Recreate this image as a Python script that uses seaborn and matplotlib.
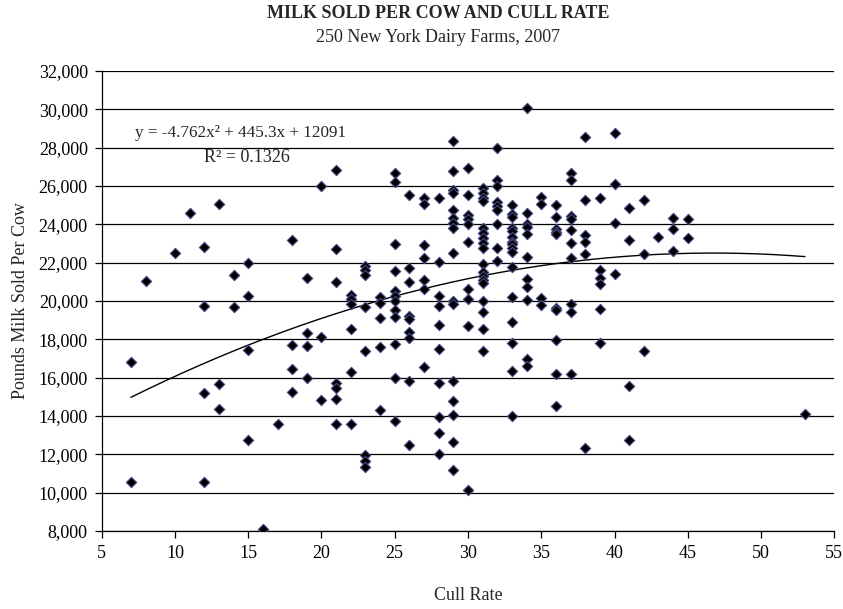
import numpy as np
import pandas as pd
import matplotlib
matplotlib.use("Agg")
import matplotlib.pyplot as plt
import matplotlib.ticker as mticker
import seaborn as sns

# ---------------- DATA ----------------
# cull rate (%) and pounds of milk sold per cow, grouped by cull rate
cull_rate = (
    [7] * 2 + [8] + [10] + [11] + [12] * 4 + [13] * 3 + [14] * 2 + [15] * 4 + [16] + [17]
    + [18] * 4 + [19] * 4 + [20] * 3 + [21] * 7 + [22] * 6 + [23] * 8 + [24] * 5
    + [25] * 12 + [26] * 9 + [27] * 7 + [28] * 10 + [29] * 16 + [30] * 10
    + [31] * 18 + [32] * 9 + [33] * 16 + [34] * 11 + [35] * 4 + [36] * 10 + [37] * 10
    + [38] * 6 + [39] * 6 + [40] * 4 + [41] * 4 + [42] * 3 + [43] + [44] * 3 + [45] * 2 + [53]
)
milk_sold = [
    16830, 10570,                                   # 7
    21050,                                          # 8
    22500,                                          # 10
    24600,                                          # 11
    22830, 19750, 15180, 10570,                     # 12
    25060, 15670, 14350,                            # 13
    21360, 19700,                                   # 14
    21970, 20260, 17440, 12750,                     # 15
    8090,                                           # 16
    13580,                                          # 17
    23180, 17700, 16430, 15250,                     # 18
    21180, 18310, 17670, 15960,                     # 19
    26020, 18140, 14830,                            # 20
    26840, 22710, 20970, 15700, 15440, 14890, 13580,  # 21
    20300, 20100, 19850, 18550, 16300, 13600,       # 22
    21800, 21600, 21350, 19700, 17400, 11950, 11650, 11350,  # 23
    20200, 19900, 19100, 17600, 14300,              # 24
    26700, 26200, 23000, 21550, 20500, 20250, 20000, 19550, 19150, 17750, 16000, 13750,  # 25
    25550, 21700, 21000, 19200, 19050, 18400, 18050, 15850, 12500,  # 26
    25350, 25050, 22900, 22250, 21100, 20600, 16550,  # 27
    25350, 22050, 20250, 19750, 18750, 17500, 15700, 13950, 13100, 12000,  # 28
    28350, 26800, 25800, 25650, 24750, 24350, 24050, 23800, 22500, 20000,
    19850, 15850, 14800, 14050, 12650, 11200,       # 29
    26950, 25550, 24500, 24300, 24000, 23100, 20600, 20100, 18700, 10150,  # 30
    25900, 25650, 25400, 25200, 23800, 23550, 23300, 23050, 22750, 21950,
    21500, 21300, 21100, 20950, 20000, 19400, 18550, 17400,  # 31
    28000, 26300, 26000, 25150, 24950, 24750, 24000, 22750, 22100,  # 32
    25000, 24550, 24400, 23800, 23650, 23350, 23100, 22950, 22750, 22550,
    21750, 20200, 18900, 17800, 16350, 14000,       # 33
    30050, 24600, 24000, 23850, 23500, 22300, 21150, 20750, 20050, 16950, 16600,  # 34
    25450, 25050, 20150, 19800,                     # 35
    25000, 24400, 23750, 23600, 23500, 19650, 19550, 17950, 16200, 14500,  # 36
    26700, 26300, 24450, 24300, 23700, 23050, 22250, 19850, 19450, 16200,  # 37
    28550, 25250, 23450, 23100, 22450, 12350,       # 38
    25400, 21600, 21200, 20900, 19600, 17800,       # 39
    28750, 26100, 24050, 21400,                     # 40
    24850, 23200, 15550, 12750,                     # 41
    25250, 22450, 17400,                            # 42
    23350,                                          # 43
    24350, 23750, 22600,                            # 44
    24300, 23300,                                   # 45
    14100,                                          # 53
]

# polynomial trendline as printed on the chart
trend_coef = [-4.762, 445.3, 12091]
trend_label = "y = -4.762x\u00b2 + 445.3x + 12091"
r2_label = "R\u00b2 = 0.1326"

x_ticks = list(range(5, 60, 5))
y_ticks = list(range(8000, 34000, 2000))

df = pd.DataFrame({"Cull Rate": cull_rate, "Milk": milk_sold})

# ---------------- PLOT ----------------
sns.set_style("white")
plt.rcParams["font.family"] = ["Liberation Serif", "DejaVu Serif"]

fig = plt.figure(figsize=(8.43, 6.09), dpi=100)
ax = fig.add_axes([0.1206, 0.1281, 0.8691, 0.7553])

for yv in y_ticks:
    ax.axhline(yv, color="black", linewidth=0.9, zorder=0)

sns.scatterplot(data=df, x="Cull Rate", y="Milk", marker="D", s=28,
                color="black", edgecolor="#4a4a8a", linewidth=0.8, ax=ax, zorder=3)

tx = np.linspace(min(cull_rate), max(cull_rate), 200)
ax.plot(tx, np.polyval(trend_coef, tx), color="black", linewidth=1.0, zorder=2)

ax.text(0.189, 0.865, trend_label, transform=ax.transAxes, ha="center", va="center", fontsize=12.3)
ax.text(0.198, 0.813, r2_label, transform=ax.transAxes, ha="center", va="center", fontsize=13)

ax.set_xlim(5, 55)
ax.set_ylim(8000, 32000)
ax.set_xticks(x_ticks)
ax.set_yticks(y_ticks)
ax.yaxis.set_major_formatter(mticker.FuncFormatter(lambda v, p: f"{v:,.0f}"))
ax.tick_params(axis="both", direction="out", length=5, width=0.9, labelsize=13, pad=5,
               color="black", labelcolor="black", bottom=True, left=True)

for side in ["top", "right"]:
    ax.spines[side].set_visible(False)
for side in ["left", "bottom"]:
    ax.spines[side].set_color("black")
    ax.spines[side].set_linewidth(0.9)

ax.set_xlabel("Cull Rate", fontsize=13, labelpad=18)
ax.set_ylabel("Pounds Milk Sold Per Cow", fontsize=13, labelpad=7)

fig.text(0.52, 0.978, "MILK SOLD PER COW AND CULL RATE", ha="center", va="center",
         fontsize=13, fontweight="bold")
fig.text(0.52, 0.938, "250 New York Dairy Farms, 2007", ha="center", va="center", fontsize=13)

fig.savefig("out.png", dpi=100)
